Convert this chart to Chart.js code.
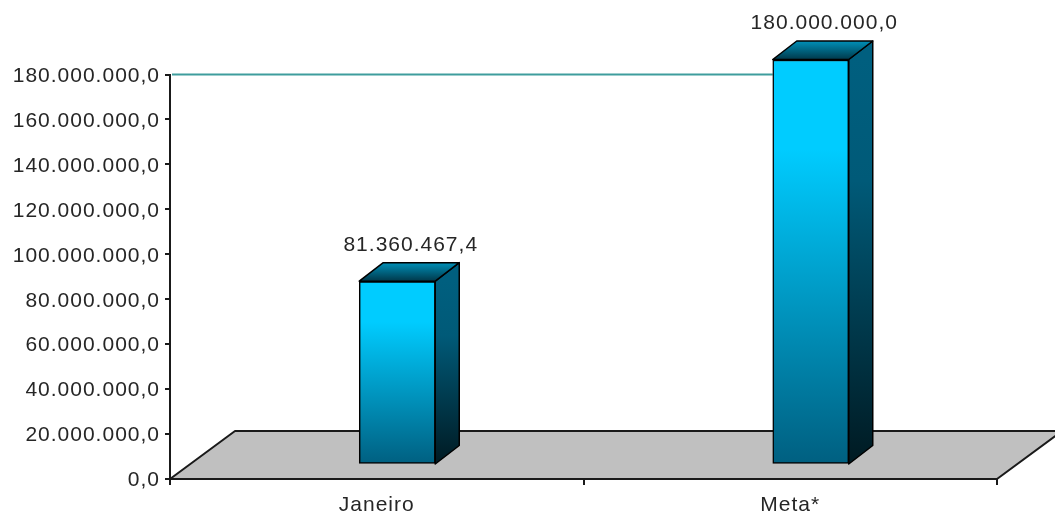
<!DOCTYPE html>
<html><head><meta charset="utf-8">
<style>html,body{margin:0;padding:0;background:#fff}canvas{display:block;filter:blur(0.4px)}</style>
<script src="https://cdn.jsdelivr.net/npm/chart.js@4/dist/chart.umd.min.js"></script>
</head><body><canvas id="c" width="1055" height="521"></canvas>
<script>
const categories = ["Janeiro", "Meta*"];
const values = [81360467.4, 180000000];
const metaLine = [180000000];
const axisMax = 180000000;
const axisStep = 20000000;

function fmt(v){
  const s = Math.abs(v).toFixed(1).split('.');
  return s[0].replace(/\B(?=(\d{3})+(?!\d))/g,'.') + ',' + s[1];
}
const FONT = {family:'"Liberation Sans", Arial, sans-serif', size:21};
const TEXT = '#262626', LINE = '#1a1a1a';
const SHIFT = {x:20.5, y:-15};     // bars float in front of the wall
const DEPTH = {x:24, y:-18.5};
const FLOOR = {x:65, y:-48};

function vGrad(c,y0,y1,stops){
  const g=c.createLinearGradient(0,y0,0,y1);
  stops.forEach(s=>g.addColorStop(s[0],s[1]));
  return g;
}
function poly(c,pts,fill,stroke,w){
  c.beginPath();pts.forEach((p,i)=>i?c.lineTo(p[0],p[1]):c.moveTo(p[0],p[1]));c.closePath();
  if(fill){c.fillStyle=fill;c.fill();}
  if(stroke){c.strokeStyle=stroke;c.lineWidth=w||1.5;c.lineJoin='round';c.stroke();}
}
const scene = {
  id:'scene',
  beforeDraw(chart){chart.ctx.letterSpacing='1px';},
  beforeDatasetsDraw(chart){
    const c=chart.ctx,{x,y}=chart.scales,a=chart.chartArea,y0=y.getPixelForValue(0);
    c.save();
    poly(c,[[a.left,y0],[a.left+FLOOR.x,y0+FLOOR.y],[a.right+FLOOR.x,y0+FLOOR.y],[a.right,y0]],'#c0c0c0',LINE,2);
    const meta=chart.getDatasetMeta(0);
    const lx=meta.data[1].x-meta.data[1].width/2+SHIFT.x;
    const ly=y.getPixelForValue(metaLine[0]);
    c.strokeStyle='#3f9d9d';c.lineWidth=2;
    c.beginPath();c.moveTo(a.left+2,ly);c.lineTo(lx,ly);c.stroke();
    meta.data.forEach(b=>{
      const l=b.x-b.width/2+SHIFT.x,r=b.x+b.width/2+SHIFT.x,t=b.y+SHIFT.y,bt=y0+SHIFT.y;
      poly(c,[[r,t],[r+DEPTH.x,t+DEPTH.y],[r+DEPTH.x,bt+DEPTH.y],[r,bt]],
        vGrad(c,t,bt,[[0,'#005f7f'],[0.3,'#005a78'],[1,'#001a22']]),'#000',1.5);
      poly(c,[[l,t],[l+DEPTH.x,t+DEPTH.y],[r+DEPTH.x,t+DEPTH.y],[r,t]],
        vGrad(c,t+DEPTH.y,t,[[0,'#0090b8'],[1,'#00384a']]),'#000',1.5);
    });
    c.restore();
  },
  beforeDatasetDraw(chart){chart.ctx.save();chart.ctx.translate(SHIFT.x,SHIFT.y+0.5);},
  afterDatasetDraw(chart){chart.ctx.restore();},
  afterDatasetsDraw(chart){
    const c=chart.ctx,meta=chart.getDatasetMeta(0);
    c.save();
    c.font=`${FONT.size}px ${FONT.family}`;c.fillStyle=TEXT;c.textAlign='center';c.textBaseline='alphabetic';
    meta.data.forEach((b,i)=>{
      c.fillText(fmt(values[i]),b.x+SHIFT.x+DEPTH.x/2+1.5,b.y+SHIFT.y+DEPTH.y-12);
    });
    c.restore();
  }
};
new Chart(document.getElementById('c'),{
  type:'bar',
  plugins:[scene],
  data:{labels:categories,datasets:[{
    data:values,
    barThickness:76,
    borderColor:'#000',borderWidth:1.5,borderSkipped:false,
    backgroundColor(ctx){
      const ch=ctx.chart;
      if(!ch.chartArea||ctx.parsed===undefined||!ch.scales.y) return '#00ccff';
      const t=ch.scales.y.getPixelForValue(ctx.parsed.y),b=ch.scales.y.getPixelForValue(0);
      return vGrad(ch.ctx,t,b,[[0,'#00ccff'],[0.22,'#00ccff'],[1,'#005f80']]);
    }
  }]},
  options:{
    responsive:false,animation:false,
    layout:{padding:{left:0,top:74.5,right:58,bottom:0}},
    plugins:{legend:{display:false},tooltip:{enabled:false}},
    scales:{
      x:{
        grid:{drawOnChartArea:false,drawTicks:true,tickLength:6,color:LINE,lineWidth:2},
        border:{color:LINE,width:2},
        ticks:{color:TEXT,font:FONT,padding:8,maxRotation:0},
        afterFit(s){s.height=42;}
      },
      y:{
        min:0,max:axisMax,
        grid:{drawOnChartArea:false,drawTicks:true,tickLength:5,color:LINE,lineWidth:2},
        border:{color:LINE,width:2},
        ticks:{stepSize:axisStep,color:TEXT,font:FONT,padding:5,labelOffset:1.5,callback:v=>fmt(v)},
        afterFit(s){s.width=170;}
      }
    }
  }
});
</script></body></html>
